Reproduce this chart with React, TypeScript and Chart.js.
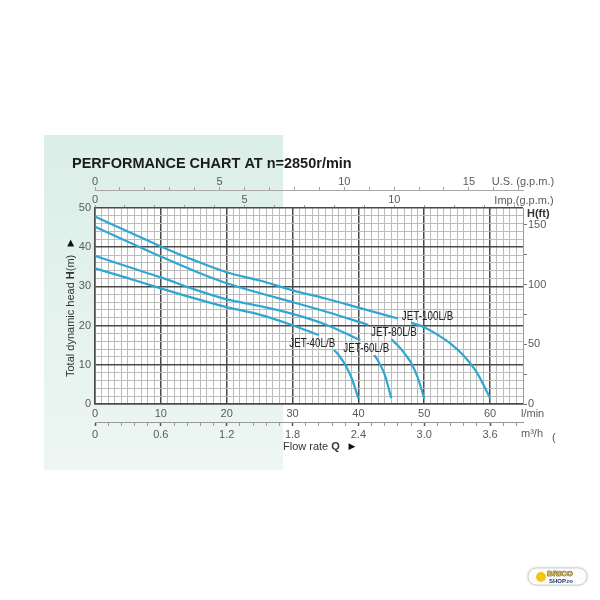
import React, { useEffect, useRef } from 'react';
import { Chart, registerables } from 'chart.js';

Chart.register(...registerables);

// ---------- data ----------
const FLOW_MAX = 65; // l/min
const HEAD_MAX = 50; // m
const FT_PER_M = 3.28084;
const LPM_PER_USGPM = 3.78541;
const LPM_PER_IMPGPM = 4.54609;
const M3H_PER_LPM = 0.06;

const seriesNames = ['JET-100L/B', 'JET-80L/B', 'JET-60L/B', 'JET-40L/B'];

const jet100Q = [0, 5, 10, 15, 20, 25, 30, 35, 40, 46, 47, 48, 50, 52, 54, 56, 58, 60];
const jet100H = [47.8, 44.0, 40.2, 36.7, 33.6, 31.5, 29.0, 26.9, 24.6, 21.8, null, 20.7, 19.6, 17.7, 15.4, 12.3, 8.0, 1.5];

const jet80Q = [0, 5, 10, 15, 20, 25, 30, 35, 41.5, 43, 45, 46, 47, 48, 49, 50];
const jet80H = [45.2, 41.4, 37.6, 34.0, 30.8, 28.3, 26.0, 23.6, 20.2, null, 16.5, 14.9, 12.9, 10.5, 6.8, 1.4];

const jet60Q = [0, 5, 10, 15, 20, 25, 30, 35, 40.3, 41.5, 42.4, 43, 44, 45];
const jet60H = [37.8, 35.0, 32.3, 29.3, 26.7, 25.0, 23.0, 20.3, 16.3, null, 12.5, 11.0, 7.5, 1.5];

const jet40Q = [0, 5, 10, 15, 20, 25, 30, 34, 35, 36.3, 37, 38, 39, 40];
const jet40H = [34.6, 32.1, 29.5, 27.0, 24.7, 22.8, 20.1, 17.6, null, 13.8, 12.5, 10.0, 6.5, 1.4];

// curve label anchors (flow l/min, head m)
const labelQ = [50.5, 45.4, 41.2, 33.0];
const labelH = [22.4, 18.2, 14.0, 15.3];

// tick labels
const flowLabels = ['0', '10', '20', '30', '40', '50', '60'];
const m3hLabels = ['0', '0.6', '1.2', '1.8', '2.4', '3.0', '3.6'];
const usLabels = ['0', '5', '10', '15'];
const impLabels = ['0', '5', '10'];
const headLabels = ['0', '10', '20', '30', '40', '50'];
const ftLabels = ['0', '50', '100', '150'];

// ---------- styles ----------
const NARROW = "'Liberation Sans Narrow', 'Arial Narrow', 'Liberation Sans', Arial, sans-serif";
const SANS = "'Liberation Sans', Arial, sans-serif";
const CURVE = '#2ea8d2';
const MAJOR = '#4a4a4a';
const MINOR = '#bcbcbc';
const TICK_TXT = '#5a5a5a';

const tickFont = { family: NARROW, size: 11, lineHeight: 1 };

const steps = (n: number, step: number) => {
  const out: { value: number }[] = [];
  for (let i = 0; i <= n; i++) out.push({ value: i * step });
  return out;
};

const pts = (q: number[], h: (number | null)[]) => q.map((x, i) => ({ x, y: h[i] }));

const decor = {
  id: 'decor',
  beforeDraw(chart: any) {
    const { ctx, chartArea: a } = chart;
    ctx.save();
    ctx.fillStyle = '#ffffff';
    ctx.fillRect(0, 0, chart.width, chart.height);
    const g = ctx.createLinearGradient(0, 135, 0, 470);
    g.addColorStop(0, '#dbeee7');
    g.addColorStop(1, '#edf6f3');
    ctx.fillStyle = g;
    ctx.fillRect(44, 135, 239, 335);
    ctx.fillStyle = '#ffffff';
    ctx.fillRect(a.left, a.top, a.right - a.left, a.bottom - a.top);
    ctx.restore();
  },
  afterDatasetsDraw(chart: any) {
    const { ctx } = chart;
    const xs = chart.scales.x;
    const ys = chart.scales.y;
    ctx.save();
    ctx.font = `12px ${NARROW}`;
    ctx.fillStyle = '#222';
    ctx.textAlign = 'center';
    ctx.textBaseline = 'middle';
    seriesNames.forEach((n, i) => {
      const px = xs.getPixelForValue(labelQ[i]);
      const py = ys.getPixelForValue(labelH[i]);
      ctx.save();
      ctx.translate(px, py);
      ctx.scale(0.82, 1);
      ctx.fillText(n, 0, 0);
      ctx.restore();
    });
    ctx.restore();
  },
  afterDraw(chart: any) {
    const { ctx, chartArea: a } = chart;
    ctx.save();
    ctx.textBaseline = 'middle';
    // title
    ctx.fillStyle = '#1c1c1c';
    ctx.font = `bold 14.5px ${SANS}`;
    ctx.textAlign = 'left';
    ctx.fillText('PERFORMANCE CHART AT n=2850r/min', 72, 163.5);

    // unit labels
    ctx.fillStyle = TICK_TXT;
    ctx.font = `11px ${NARROW}`;
    ctx.textAlign = 'center';
    ctx.fillText('U.S. (g.p.m.)', a.right, 182);
    ctx.fillText('Imp.(g.p.m.)', a.right + 1, 200.5);
    ctx.textAlign = 'left';
    ctx.fillText('l/min', a.right - 2, 414);
    ctx.fillText('m³/h', a.right - 2, 434);
    ctx.fillText('(', 552, 438);

    ctx.fillStyle = '#333';
    ctx.font = `bold 11px ${NARROW}`;
    ctx.fillText('H(ft)', a.right + 4, 214);

    // flow rate title
    ctx.fillStyle = '#333';
    let x = 283;
    ctx.font = `11px ${SANS}`;
    ctx.fillText('Flow rate ', x, 447);
    x += ctx.measureText('Flow rate ').width;
    ctx.font = `bold 11px ${SANS}`;
    ctx.fillText('Q', x, 447);
    ctx.font = `9px 'DejaVu Sans', sans-serif`;
    ctx.textAlign = 'center';
    ctx.fillStyle = '#111';
    ctx.fillText('▶', 352, 447);

    // y-axis title
    ctx.save();
    ctx.translate(71, 377);
    ctx.rotate(-Math.PI / 2);
    ctx.textAlign = 'left';
    ctx.fillStyle = '#333';
    let y = 0;
    ctx.font = `11px ${SANS}`;
    ctx.fillText('Total dynamic head ', y, 0);
    y += ctx.measureText('Total dynamic head ').width;
    ctx.font = `bold 11px ${SANS}`;
    ctx.fillText('H', y, 0);
    y += ctx.measureText('H').width;
    ctx.font = `11px ${SANS}`;
    ctx.fillText('(m)', y, 0);
    ctx.font = `9px 'DejaVu Sans', sans-serif`;
    ctx.textAlign = 'center';
    ctx.fillStyle = '#111';
    ctx.fillText('▶', 134, 0);
    ctx.restore();

    // small badge
    ctx.save();
    ctx.shadowColor = 'rgba(0,0,0,0.25)';
    ctx.shadowBlur = 3;
    ctx.fillStyle = '#fdfdfd';
    ctx.beginPath();
    ctx.roundRect(528, 568, 59, 17, 8.5);
    ctx.fill();
    ctx.restore();
    ctx.strokeStyle = '#d0d0d0';
    ctx.lineWidth = 1;
    ctx.beginPath();
    ctx.roundRect(528, 568, 59, 17, 8.5);
    ctx.stroke();
    ctx.fillStyle = '#f3c614';
    ctx.beginPath();
    ctx.arc(541, 577, 5, 0, Math.PI * 2);
    ctx.fill();
    ctx.textAlign = 'left';
    ctx.font = `bold 8px ${SANS}`;
    ctx.fillStyle = '#e8b800';
    ctx.strokeStyle = '#3a2a00';
    ctx.lineWidth = 0.6;
    ctx.strokeText('BRICO', 547, 574);
    ctx.fillText('BRICO', 547, 574);
    ctx.font = `bold 6px ${SANS}`;
    ctx.fillStyle = '#1d2f6b';
    ctx.fillText('SHOP.ro', 549, 581);
    ctx.restore();
  },
};

export default function App() {
  const ref = useRef<HTMLCanvasElement | null>(null);

  useEffect(() => {
    if (!ref.current) return;
    const mk = (i: number, q: number[], h: (number | null)[]) => ({
      label: seriesNames[i],
      data: pts(q, h),
      borderColor: CURVE,
      borderWidth: 2.2,
      pointRadius: 0,
      fill: false,
      cubicInterpolationMode: 'monotone' as const,
      spanGaps: false,
      xAxisID: 'x',
      yAxisID: 'y',
    });

    const chart = new Chart(ref.current, {
      type: 'line',
      data: {
        datasets: [
          mk(0, jet100Q, jet100H),
          mk(1, jet80Q, jet80H),
          mk(2, jet60Q, jet60H),
          mk(3, jet40Q, jet40H),
        ],
      },
      options: {
        responsive: false,
        animation: false,
        events: [],
        layout: { padding: { top: 172, bottom: 158, left: 55, right: 37 } },
        plugins: { legend: { display: false }, tooltip: { enabled: false }, title: { display: false } },
        scales: {
          x: {
            type: 'linear',
            position: 'bottom',
            weight: 0,
            min: 0,
            max: FLOW_MAX,
            afterBuildTicks: (s: any) => { s.ticks = steps(FLOW_MAX, 1); },
            afterFit: (s: any) => { s.height = 18; },
            ticks: {
              autoSkip: false,
              maxRotation: 0,
              padding: 4,
              color: TICK_TXT,
              font: tickFont,
              callback: (v: any) => (v % 10 === 0 ? flowLabels[v / 10] ?? '' : ''),
            },
            grid: {
              drawTicks: false,
              color: (c: any) => (c.tick && c.tick.value % 10 === 0 ? MAJOR : MINOR),
              lineWidth: (c: any) => (c.tick && c.tick.value % 10 === 0 ? 1.5 : 1),
            },
            border: { display: true, color: MAJOR, width: 1.5 },
          },
          xm3h: {
            type: 'linear',
            position: 'bottom',
            weight: 1,
            min: 0,
            max: FLOW_MAX * M3H_PER_LPM,
            afterBuildTicks: (s: any) => { s.ticks = steps(32, 0.12); },
            afterFit: (s: any) => { s.height = 20; },
            ticks: {
              autoSkip: false,
              maxRotation: 0,
              padding: 3,
              color: TICK_TXT,
              font: tickFont,
              callback: (_v: any, i: number) => (i % 5 === 0 ? m3hLabels[i / 5] ?? '' : ''),
            },
            grid: {
              drawOnChartArea: false,
              drawTicks: true,
              tickLength: 4,
              tickColor: (c: any) => (c.index % 5 === 0 ? '#555' : '#9a9a9a'),
              tickWidth: (c: any) => (c.index % 5 === 0 ? 1.5 : 1),
            },
            border: { display: true, color: '#9a9a9a', width: 1 },
          },
          xImp: {
            type: 'linear',
            position: 'top',
            weight: 0,
            min: 0,
            max: FLOW_MAX / LPM_PER_IMPGPM,
            afterBuildTicks: (s: any) => { s.ticks = steps(14, 1); },
            afterFit: (s: any) => { s.height = 18; },
            ticks: {
              autoSkip: false,
              maxRotation: 0,
              padding: 0,
              color: TICK_TXT,
              font: tickFont,
              callback: (_v: any, i: number) => (i % 5 === 0 ? impLabels[i / 5] ?? '' : ''),
            },
            grid: {
              drawOnChartArea: false,
              drawTicks: true,
              tickLength: 3,
              tickColor: '#a0a0a0',
            },
            border: { display: false },
          },
          xUS: {
            type: 'linear',
            position: 'top',
            weight: 1,
            min: 0,
            max: FLOW_MAX / LPM_PER_USGPM,
            afterBuildTicks: (s: any) => { s.ticks = steps(17, 1); },
            afterFit: (s: any) => { s.height = 18; },
            ticks: {
              autoSkip: false,
              maxRotation: 0,
              padding: 0,
              color: TICK_TXT,
              font: tickFont,
              callback: (_v: any, i: number) => (i % 5 === 0 ? usLabels[i / 5] ?? '' : ''),
            },
            grid: {
              drawOnChartArea: false,
              drawTicks: true,
              tickLength: 3,
              tickColor: '#a0a0a0',
            },
            border: { display: true, color: '#a8a8a8', width: 1 },
          },
          y: {
            type: 'linear',
            position: 'left',
            min: 0,
            max: HEAD_MAX,
            afterBuildTicks: (s: any) => { s.ticks = steps(25, 2); },
            afterFit: (s: any) => { s.width = 40; },
            ticks: {
              autoSkip: false,
              padding: 4,
              color: TICK_TXT,
              font: tickFont,
              callback: (v: any) => (v % 10 === 0 ? headLabels[v / 10] ?? '' : ''),
            },
            grid: {
              drawTicks: false,
              color: (c: any) => (c.tick && c.tick.value % 10 === 0 ? MAJOR : MINOR),
              lineWidth: (c: any) => (c.tick && c.tick.value % 10 === 0 ? 1.5 : 1),
            },
            border: { display: true, color: MAJOR, width: 1.5 },
          },
          yFt: {
            type: 'linear',
            position: 'right',
            min: 0,
            max: HEAD_MAX * FT_PER_M,
            afterBuildTicks: (s: any) => { s.ticks = steps(6, 25); },
            afterFit: (s: any) => { s.width = 40; },
            ticks: {
              autoSkip: false,
              padding: 1,
              color: TICK_TXT,
              font: tickFont,
              callback: (_v: any, i: number) => (i % 2 === 0 ? ftLabels[i / 2] ?? '' : ''),
            },
            grid: {
              drawOnChartArea: false,
              drawTicks: true,
              tickLength: 4,
              tickColor: '#777',
            },
            border: { display: true, color: '#9a9a9a', width: 1 },
          },
        },
      },
      plugins: [decor],
    } as any);

    return () => chart.destroy();
  }, []);

  return (
    <div style={{ position: 'fixed', left: 0, top: 0, width: 600, height: 600, background: '#fff' }}>
      <canvas ref={ref} width={600} height={600} style={{ display: 'block' }} />
    </div>
  );
}
